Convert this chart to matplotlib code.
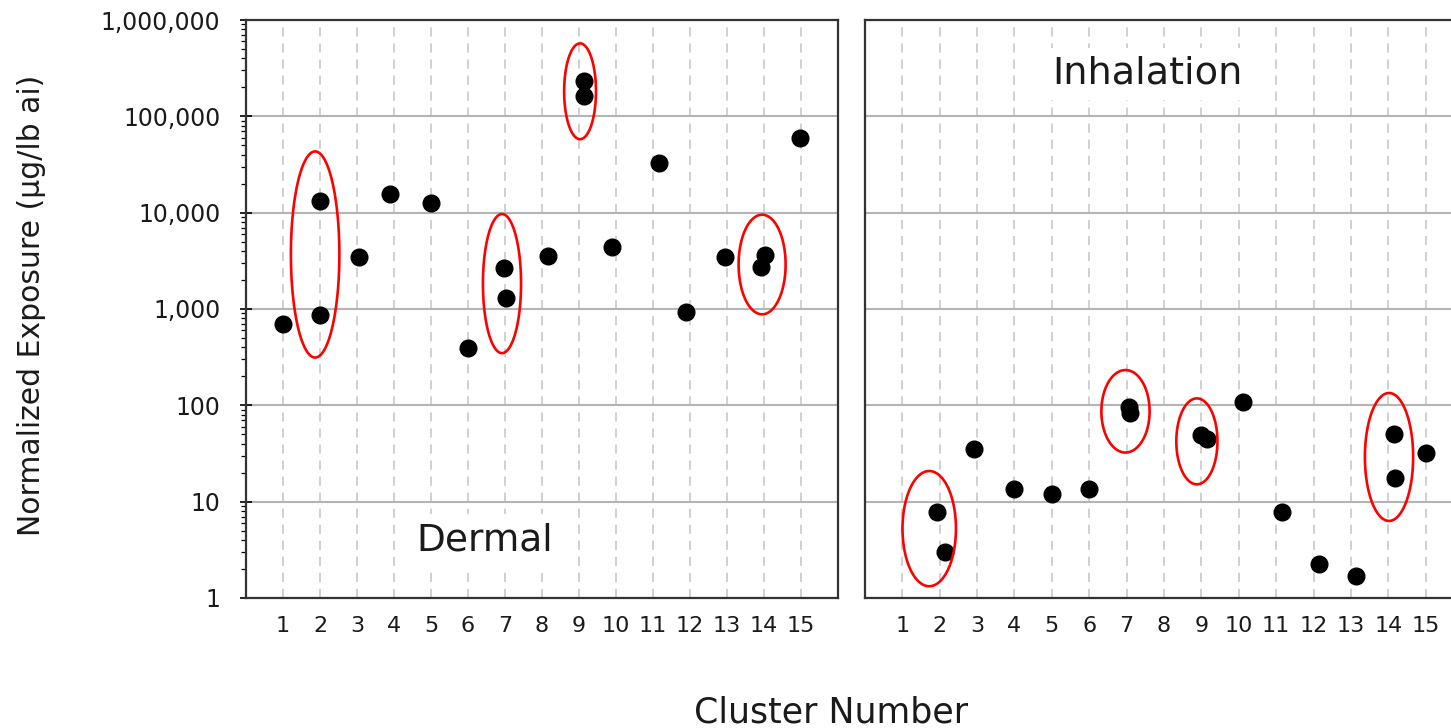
import numpy as np
import matplotlib
matplotlib.use("Agg")
import matplotlib.pyplot as plt
from matplotlib.patches import Polygon
from matplotlib.ticker import FixedLocator, LogLocator, FuncFormatter, NullFormatter

# cluster positions and exposures (ug/lb ai)
dermal_x = [1.0, 2.0, 2.0, 3.06, 3.88, 5.0, 6.0, 6.97, 7.03, 8.17, 9.13, 9.13,
            9.9, 11.17, 11.9, 12.96, 14.03, 13.91, 14.97]
dermal_y = [700, 13200, 870, 3470, 15700, 12600, 395, 2670, 1310, 3520, 231000,
            162000, 4400, 32500, 940, 3470, 3660, 2760, 60000]

inhal_x = [1.94, 2.15, 2.93, 4.0, 5.0, 6.0, 7.06, 7.08, 9.0, 9.14, 10.12, 11.17,
           12.15, 13.14, 14.16, 14.17, 15.0]
inhal_y = [7.8, 2.97, 35.6, 13.6, 12.1, 13.6, 96, 84, 49, 45.2, 109, 7.8,
           2.26, 1.7, 49.8, 17.5, 31.9]

# highlighted groups: centre x, centre log10(y), full width, log10 half-height
dermal_rings = dict(cx=[1.87, 6.92, 9.03, 13.95], cy=[3.566, 3.264, 5.26, 3.462],
                    w=[1.31, 1.03, 0.86, 1.27], h=[1.07, 0.722, 0.4975, 0.517])
inhal_rings = dict(cx=[1.72, 6.97, 8.88, 14.02], cy=[0.72, 1.938, 1.626, 1.464],
                   w=[1.43, 1.29, 1.10, 1.29], h=[0.598, 0.428, 0.446, 0.664])

clusters = list(range(1, 16))
y_ticks = [1, 10, 100, 1000, 10000, 100000, 1000000]

plt.rcParams['font.family'] = ['DejaVu Sans']
txt = '#1a1a1a'

fig = plt.figure(figsize=(14.51, 7.28), dpi=100)
ax1 = fig.add_axes([0.1695, 0.1786, 0.408, 0.7939])
ax2 = fig.add_axes([0.5961, 0.1786, 0.4122, 0.7939])


def style(ax, show_y):
    ax.set_yscale('log')
    ax.set_ylim(1, 1e6)
    ax.set_xlim(0, 16)
    ax.xaxis.set_major_locator(FixedLocator(clusters))
    ax.set_xticklabels([str(c) for c in clusters])
    ax.tick_params(axis='x', length=0, pad=13, labelsize=16, labelcolor=txt)
    ax.yaxis.set_major_locator(FixedLocator(y_ticks))
    ax.yaxis.set_minor_locator(LogLocator(base=10, subs=np.arange(2, 10)))
    ax.yaxis.set_minor_formatter(NullFormatter())
    if show_y:
        ax.yaxis.set_major_formatter(FuncFormatter(lambda v, _: f'{v:,.0f}'))
        ax.tick_params(axis='y', which='major', direction='inout', length=9,
                       width=1.2, pad=14, labelsize=17, labelcolor=txt)
        ax.tick_params(axis='y', which='minor', direction='out', length=3.5, width=0.9)
    else:
        ax.tick_params(axis='y', which='both', left=False, labelleft=False)
    ax.yaxis.grid(True, which='major', color='#b4b4b4', lw=1.5, ls='-')
    ax.xaxis.grid(True, color='#c4c4c4', lw=1.1, ls=(0, (6, 4.5)))
    ax.set_axisbelow(True)
    for s in ax.spines.values():
        s.set_color('#333333')
        s.set_linewidth(1.6)


def rings(ax, r):
    t = np.linspace(0, 2 * np.pi, 240, endpoint=False)
    for cx, cy, w, h in zip(r['cx'], r['cy'], r['w'], r['h']):
        pts = np.column_stack([cx + w / 2 * np.cos(t), 10 ** (cy + h * np.sin(t))])
        ax.add_patch(Polygon(pts, closed=True, fill=False, edgecolor='#ff0000',
                             lw=1.9, zorder=4))


style(ax1, True)
style(ax2, False)

ax1.plot(dermal_x, dermal_y, 'o', color='black', ms=12, zorder=3)
ax2.plot(inhal_x, inhal_y, 'o', color='black', ms=12, zorder=3)
rings(ax1, dermal_rings)
rings(ax2, inhal_rings)

ax1.text(6.46, 10 ** 0.6, 'Dermal', fontsize=27, color=txt, ha='center', va='center',
         bbox=dict(facecolor='white', edgecolor='none', pad=6), zorder=2)
ax2.text(7.57, 10 ** 5.44, 'Inhalation', fontsize=27.5, color=txt, ha='center', va='center',
         bbox=dict(facecolor='white', edgecolor='none', pad=6), zorder=2)

fig.text(0.022, 0.581, 'Normalized Exposure (\u00b5g/lb ai)', rotation=90,
         fontsize=21.5, color=txt, ha='center', va='center')
fig.text(0.573, 0.021, 'Cluster Number', fontsize=25, color=txt,
         ha='center', va='center')

fig.savefig('out.png', dpi=100)
